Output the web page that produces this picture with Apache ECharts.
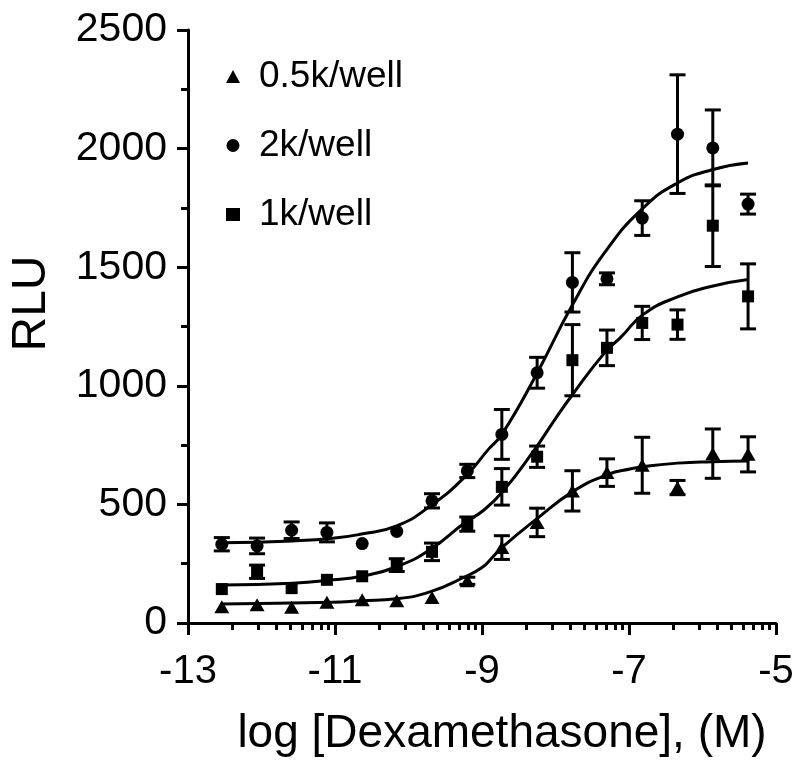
<!DOCTYPE html>
<html>
<head>
<meta charset="utf-8">
<script src="https://cdn.jsdelivr.net/npm/echarts@6/dist/echarts.min.js"></script>
<style>
  html, body { margin: 0; padding: 0; background: #fff; }
  #chart { width: 800px; height: 779px; }
</style>
</head>
<body>
<div id="chart"></div>
<script>
// ---------- data ----------
const xLabels = ['-13', '-11', '-9', '-7', '-5'];
const seriesNames = ['0.5k/well', '2k/well', '1k/well'];

// log [Dexamethasone] of every measured point (3-fold dilution series)
const logDex = [-12.54, -12.06, -11.59, -11.11, -10.63, -10.16, -9.68, -9.20,
                -8.73, -8.25, -7.77, -7.30, -6.82, -6.34, -5.86, -5.38];

// 0.5k/well (triangles)
const meanHalfK = [69, 77, 66, 87, 98, 94, 108, 178, 318, 424, 557, 634, 665, 571, 714, 711];
const errHalfK  = [0, 0, 0, 0, 0, 0, 0, 15, 50, 60, 85, 58, 118, 30, 104, 74];

// 2k/well (circles)
const meanTwoK = [332, 325, 391, 382, 335, 386, 515, 641, 795, 1055, 1436, 1451, 1707, 2061, 2003, 1766];
const errTwoK  = [28, 33, 35, 40, 0, 0, 30, 28, 105, 65, 125, 25, 73, 250, 160, 42];

// 1k/well (squares)
const meanOneK = [143, 216, 147, 182, 197, 244, 300, 417, 574, 701, 1108, 1160, 1265, 1258, 1675, 1377];
const errOneK  = [0, 28, 0, 0, 0, 27, 37, 30, 77, 45, 150, 75, 70, 62, 172, 137];

// fitted curves
const curveHalfKX = [-12.54, -11.03, -10.64, -10.17, -9.70, -9.23, -9.00, -8.86, -8.73, -8.26, -7.76, -7.29, -6.97, -6.81, -6.34, -5.87, -5.38];
const curveHalfKY = [80, 87, 94, 102, 132, 195, 234, 276, 318, 438, 555, 626, 650, 659, 674, 680, 683];

const curveTwoKX = [-12.54, -11.58, -11.03, -10.64, -10.17, -9.70, -9.23, -8.91, -8.73, -8.26, -7.78, -7.33, -6.81, -6.34, -5.87, -5.38];
const curveTwoKY = [338, 346, 357, 375, 408, 494, 617, 733, 795, 1048, 1335, 1562, 1749, 1855, 1911, 1939];

const curveOneKX = [-12.54, -11.58, -11.03, -10.64, -10.17, -9.70, -9.23, -9.00, -8.73, -8.28, -8.03, -7.78, -7.33, -7.11, -6.81, -6.34, -5.87, -5.38];
const curveOneKY = [160, 168, 182, 197, 236, 311, 424, 470, 550, 733, 848, 958, 1140, 1205, 1300, 1375, 1420, 1448];

// ---------- build ----------
const FONT = '"Liberation Sans", Arial, Helvetica, sans-serif';
const zip = (xs, ys) => xs.map((x, i) => [x, ys[i]]);
const errData = (means, errs) => logDex
  .map((x, i) => [x, means[i] - errs[i], means[i] + errs[i], errs[i]])
  .filter(d => d[3] > 0);

// log-style minor ticks inside each 2-unit span of the x axis
const minorX = [];
for (let s = -13; s < -5; s += 2) {
  for (let k = 2; k <= 9; k++) minorX.push(s + 2 * Math.log10(k));
}

function renderErr(params, api) {
  const x = api.value(0);
  const lo = api.coord([x, api.value(1)]);
  const hi = api.coord([x, api.value(2)]);
  const w = 8;
  const st = { stroke: '#000', lineWidth: 3 };
  return {
    type: 'group',
    children: [
      { type: 'line', shape: { x1: hi[0], y1: hi[1], x2: lo[0], y2: lo[1] }, style: st },
      { type: 'line', shape: { x1: hi[0] - w, y1: hi[1], x2: hi[0] + w, y2: hi[1] }, style: st },
      { type: 'line', shape: { x1: lo[0] - w, y1: lo[1], x2: lo[0] + w, y2: lo[1] }, style: st }
    ]
  };
}

const curveSeries = (xs, ys) => ({
  type: 'line', data: zip(xs, ys), smooth: 0.5,
  showSymbol: false, symbol: 'none', silent: true,
  lineStyle: { color: '#000', width: 3 }, z: 2
});

const errSeries = (means, errs) => ({
  type: 'custom', renderItem: renderErr, data: errData(means, errs),
  encode: { x: 0, y: [1, 2] }, silent: true, z: 3
});

const pointSeries = (name, means, symbol, size) => ({
  name, type: 'scatter', data: zip(logDex, means), symbol, symbolSize: size,
  itemStyle: { color: '#000', opacity: 1 }, z: 4
});

const chart = echarts.init(document.getElementById('chart'), null, { renderer: 'canvas' });
chart.setOption({
  backgroundColor: '#fff',
  animation: false,
  textStyle: { fontFamily: FONT, color: '#000' },
  grid: { left: 185, right: 24, top: 30, bottom: 156, containLabel: false },
  legend: {
    orient: 'vertical', left: 221, top: 51,
    itemWidth: 14, itemHeight: 13, itemGap: 28,
    data: [
      { name: seriesNames[0], icon: 'triangle' },
      { name: seriesNames[1], icon: 'circle' },
      { name: seriesNames[2], icon: 'rect' }
    ],
    textStyle: { fontFamily: FONT, fontSize: 37, color: '#000', lineHeight: 41, padding: [0, 0, 0, 14] },
    itemStyle: { color: '#000', opacity: 1 },
    selectedMode: false
  },
  xAxis: [{
    type: 'value', min: -13, max: -5, interval: 2,
    name: 'log [Dexamethasone], (M)', nameLocation: 'middle', nameGap: 88,
    nameTextStyle: { fontFamily: FONT, fontSize: 46, color: '#000', padding: [0, 0, 0, 40] },
    axisLine: { show: true, onZero: false, lineStyle: { color: '#000', width: 3 } },
    axisTick: { show: true, inside: false, length: 12, lineStyle: { color: '#000', width: 3 } },
    axisLabel: { fontFamily: FONT, fontSize: 40, color: '#000', margin: 29,
                 formatter: v => xLabels[Math.round((v + 13) / 2)] },
    splitLine: { show: false }
  }, {
    type: 'value', min: -13, max: -5, position: 'bottom', gridIndex: 0,
    axisLine: { show: false },
    axisTick: { show: true, inside: false, length: 7, customValues: minorX,
                lineStyle: { color: '#000', width: 3 } },
    axisLabel: { show: false },
    splitLine: { show: false }
  }],
  yAxis: {
    type: 'value', min: 0, max: 2500, interval: 500,
    name: 'RLU', nameLocation: 'middle', nameGap: 132, nameRotate: 90,
    nameTextStyle: { fontFamily: FONT, fontSize: 48, color: '#000', padding: [0, 0, 0, 46] },
    axisLine: { show: true, onZero: false, lineStyle: { color: '#000', width: 3 } },
    axisTick: { show: true, inside: false, length: 11, lineStyle: { color: '#000', width: 3 } },
    minorTick: { show: true, splitNumber: 2, length: 7, lineStyle: { color: '#000', width: 3 } },
    axisLabel: { fontFamily: FONT, fontSize: 41, color: '#000', margin: 21,
                 formatter: v => String(v) },
    splitLine: { show: false }
  },
  series: [
    curveSeries(curveHalfKX, curveHalfKY),
    curveSeries(curveTwoKX, curveTwoKY),
    curveSeries(curveOneKX, curveOneKY),
    errSeries(meanHalfK, errHalfK),
    errSeries(meanTwoK, errTwoK),
    errSeries(meanOneK, errOneK),
    pointSeries(seriesNames[0], meanHalfK, 'triangle', [15, 13]),
    pointSeries(seriesNames[1], meanTwoK, 'circle', 13),
    pointSeries(seriesNames[2], meanOneK, 'rect', 12)
  ]
});
</script>
</body>
</html>
